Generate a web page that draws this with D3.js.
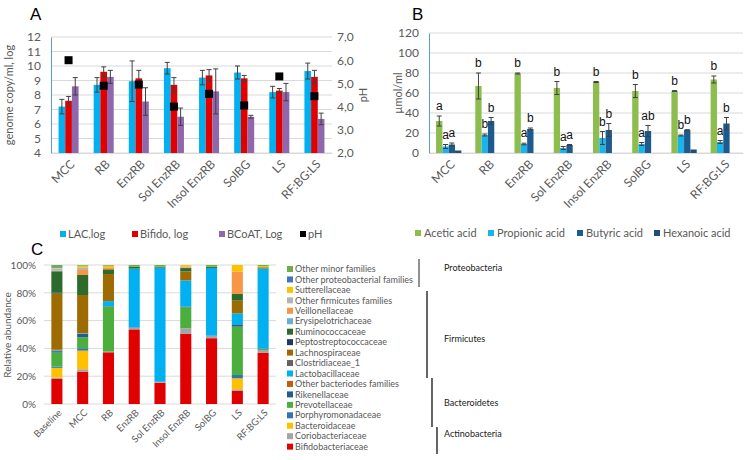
<!DOCTYPE html>
<html><head><meta charset="utf-8">
<script src="https://cdn.jsdelivr.net/npm/d3@7"></script>
<style>
body{margin:0;background:#fff}
svg{display:block}
text{font-family:Lato,'Open Sans',sans-serif}
</style>
</head><body>
<svg id="chart" width="752" height="460"></svg>
<script>
// ---------- Panel A data ----------
const groupsA = ["MCC","RB","EnzRB","Sol EnzRB","Insol EnzRB","SolBG","LS","RF:BG:LS"];
const lacLog    = [7.2, 8.7, 8.95, 9.85, 9.2, 9.55, 8.2, 9.65];
const lacErr    = [0.5, 0.5, 1.4, 0.4, 0.5, 0.45, 0.4, 0.55];
const bifidoLog = [7.6, 9.6, 9.15, 8.7, 9.35, 9.15, 8.3, 9.25];
const bifidoErr = [0.3, 0.34, 0.55, 0.5, 0.4, 0.2, 0.15, 0.45];
const bcoatLog  = [8.6, 9.25, 7.55, 6.5, 8.25, 6.5, 8.2, 6.35];
const bcoatErr  = [0.6, 0.45, 0.95, 0.6, 1.55, 0.1, 0.6, 0.4];
const pHvalues  = [6.0, 4.9, 4.95, 4.0, 4.55, 4.05, 5.3, 4.45];
const ticksA  = [4,5,6,7,8,9,10,11,12];
const ticksPH = [2,3,4,5,6,7];

// ---------- Panel B data ----------
const groupsB = groupsA;
const acetic      = [32, 67, 79.5, 65, 71, 62, 62, 73.5];
const aceticErr   = [5, 13, 0.5, 6.5, 0.5, 6.5, 0.4, 3.5];
const propionic   = [6.5, 18, 9, 5, 15, 9, 17.5, 11];
const propionicErr= [2, 1, 0.8, 1.5, 6.5, 1.5, 0.5, 1.5];
const butyric     = [8.5, 32, 24, 8, 23, 22, 23, 29.5];
const butyricErr  = [1.5, 3.5, 1, 0.5, 6.5, 5.5, 0.3, 6];
const hexanoic    = [2.5, 0, 0, 0, 0, 0, 3.5, 0];
const lettersAcetic    = ["a","b","b","b","b","b","b","b"];
const lettersPropionic = ["a","b","a","a","b","a","b","a"];
const lettersButyric   = ["a","b","b","a","b","ab","b","b"];
const ticksB = [0,20,40,60,80,100,120];

// ---------- Panel C data ----------
const groupsC = ["Baseline","MCC","RB","EnzRB","Sol EnzRB","Insol EnzRB","SolBG","LS","RF:BG:LS"];
const bifidobacteriaceae   = [18, 23.3, 37.2, 53.7, 15.3, 50.4, 47.2, 9.4, 36.9];
const coriobacteriaceae    = [1, 1.7, 0.5, 1.2, 0.7, 4.1, 1.7, 1.2, 1.9];
const bacteroidaceae       = [7, 13.4, 0, 0, 0, 0, 0, 7.9, 0];
const porphyromonadaceae   = [1, 1.7, 0, 0, 0, 0, 0, 2.4, 0];
const prevotellaceae       = [10, 7.9, 32.4, 0, 0, 15.1, 0, 34.8, 0.7];
const rikenellaceae        = [1, 2.4, 0.3, 0.3, 0, 0.5, 0.3, 1.7, 0.3];
const otherBacteroides     = [0.5, 0.3, 0, 0, 0, 0, 0, 0, 0];
const lactobacillaceae     = [0.5, 0.3, 3.6, 42.2, 82.1, 18.8, 48.4, 7.9, 57.3];
const clostridiaceae1      = [0, 0, 0, 0, 0, 0, 0, 0, 0];
const lachnospiraceae      = [40.5, 27.4, 19.5, 0, 0, 6.5, 0, 9.1, 0.3];
const peptostreptococcaceae= [0.5, 0, 0, 0, 0, 0, 0, 0, 0];
const ruminococcaceae      = [15.5, 14.4, 3.4, 1.4, 0.7, 2.4, 0.9, 4.8, 0.7];
const erysipelotrichaceae  = [0.5, 0, 0, 0, 0, 0, 0, 0, 0];
const veillonellaceae      = [0, 3.6, 1.4, 0, 0, 0.6, 0, 16.1, 0];
const otherFirmicutes      = [1.5, 1.9, 0, 0, 0, 0.6, 0, 0, 0];
const sutterellaceae       = [0.5, 1.2, 1.2, 0, 0, 1, 0, 4.8, 1];
const otherProteobacterial = [0.5, 0, 0, 0, 0, 0, 0, 0, 0];
const otherMinor           = [1.5, 0.5, 0.5, 1.2, 1.2, 0, 1.2, 0, 0.7];
const ticksC = [0,0.2,0.4,0.6,0.8,1];

// families bottom -> top
const families = [
  ["Bifidobacteriaceae", bifidobacteriaceae, "#e00000"],
  ["Coriobacteriaceae", coriobacteriaceae, "#a5a5a5"],
  ["Bacteroidaceae", bacteroidaceae, "#ffc000"],
  ["Porphyromonadaceae", porphyromonadaceae, "#2e75b6"],
  ["Prevotellaceae", prevotellaceae, "#4cae3c"],
  ["Rikenellaceae", rikenellaceae, "#1f5f8f"],
  ["Other bacteriodes families", otherBacteroides, "#c55a11"],
  ["Lactobacillaceae", lactobacillaceae, "#00b0f0"],
  ["Clostridiaceae_1", clostridiaceae1, "#636363"],
  ["Lachnospiraceae", lachnospiraceae, "#9e6b00"],
  ["Peptostreptococcaceae", peptostreptococcaceae, "#1f3864"],
  ["Ruminococcaceae", ruminococcaceae, "#2d6b2d"],
  ["Erysipelotrichaceae", erysipelotrichaceae, "#6aaed6"],
  ["Veillonellaceae", veillonellaceae, "#f79646"],
  ["Other firmicutes families", otherFirmicutes, "#b4b4b4"],
  ["Sutterellaceae", sutterellaceae, "#ffc000"],
  ["Other proteobacterial families", otherProteobacterial, "#4472c4"],
  ["Other minor families", otherMinor, "#70ad47"]
];
const phyla = [
  {name:"Proteobacteria", y1:259, y2:287, x:419, color:"#555"},
  {name:"Firmicutes", y1:291, y2:378, x:427, color:"#111"},
  {name:"Bacteroidetes", y1:378, y2:427, x:432, color:"#111"},
  {name:"Actinobacteria", y1:427, y2:454, x:437, color:"#111"}
];

const gridC = "#d9d9d9", axisBlue = "#5b9bd5", txt = "#595959", errC = "#404040";
const svg = d3.select("#chart");

function errorBar(g, cx, yTop, yBot) {
  g.append("line").attr("x1",cx).attr("x2",cx).attr("y1",yTop).attr("y2",yBot).attr("stroke",errC).attr("stroke-width",1);
  g.append("line").attr("x1",cx-2.5).attr("x2",cx+2.5).attr("y1",yTop).attr("y2",yTop).attr("stroke",errC).attr("stroke-width",1);
  g.append("line").attr("x1",cx-2.5).attr("x2",cx+2.5).attr("y1",yBot).attr("y2",yBot).attr("stroke",errC).attr("stroke-width",1);
}

// ================= PANEL A =================
{
  const g = svg.append("g");
  const x = d3.scaleBand().domain(groupsA).range([51,332]).paddingInner(0.43).paddingOuter(0.215);
  const series = [
    {key:"LAC,log", vals:lacLog, err:lacErr, color:"#00b0f0"},
    {key:"Bifido, log", vals:bifidoLog, err:bifidoErr, color:"#e00000"},
    {key:"BCoAT, Log", vals:bcoatLog, err:bcoatErr, color:"#8e67ad"}
  ];
  const xs = d3.scaleBand().domain(series.map(s=>s.key)).range([0,x.bandwidth()]);
  const y = d3.scaleLinear().domain([4,12]).range([153,37]);
  const yR = d3.scaleLinear().domain([2,7]).range([153,37]);

  g.append("g").selectAll("line").data(ticksA).join("line")
    .attr("x1",51).attr("x2",332).attr("y1",d=>y(d)).attr("y2",d=>y(d))
    .attr("stroke",gridC).attr("stroke-width",1);

  const ax = g.append("g").attr("transform","translate(51,0)")
    .call(d3.axisLeft(y).tickValues(ticksA).tickSize(0).tickPadding(10));
  ax.select(".domain").attr("stroke",axisBlue);
  ax.selectAll("text").attr("fill",txt).style("font-size","12px").style("font-family","Lato");

  const axR = g.append("g").attr("transform","translate(332,0)")
    .call(d3.axisRight(yR).tickValues(ticksPH).tickSize(0).tickPadding(5).tickFormat(d=>d3.format(".1f")(d).replace(".",",")));
  axR.select(".domain").remove();
  axR.selectAll("text").attr("fill",txt).style("font-size","12px").style("font-family","Lato");

  series.forEach(s=>{
    groupsA.forEach((c,i)=>{
      const bx = x(c)+xs(s.key);
      g.append("rect").attr("x",bx).attr("width",xs.bandwidth()).attr("y",y(s.vals[i])).attr("height",y(4)-y(s.vals[i])).attr("fill",s.color);
    });
  });
  series.forEach(s=>{
    groupsA.forEach((c,i)=>{
      const cx = x(c)+xs(s.key)+xs.bandwidth()/2;
      errorBar(g, cx, y(s.vals[i]+s.err[i]), y(s.vals[i]-s.err[i]));
    });
  });
  groupsA.forEach((c,i)=>{
    const cx = x(c)+x.bandwidth()/2;
    g.append("rect").attr("x",cx-4).attr("y",yR(pHvalues[i])-4).attr("width",8).attr("height",8).attr("fill","#000");
  });

  const xa = g.append("g").attr("transform","translate(0,153)").call(d3.axisBottom(x).tickSize(0).tickPadding(0));
  xa.select(".domain").attr("stroke",gridC);
  xa.selectAll("text").attr("fill",txt).style("font-size","12px").style("font-family","Lato")
    .attr("text-anchor","end").attr("transform","translate(4,9) rotate(-45)").attr("dy","0.35em");

  g.append("text").attr("x",30).attr("y",20).text("A").style("font-family","Liberation Sans").style("font-size","17px");
  g.append("text").attr("transform","translate(13,95) rotate(-90)").attr("text-anchor","middle")
    .attr("fill",txt).style("font-size","11px").text("genome copy/ml, log");
  g.append("text").attr("transform","translate(367,95) rotate(-90)").attr("text-anchor","middle")
    .attr("fill",txt).style("font-size","11px").text("pH");

  const legA = [
    {t:"LAC,log", c:"#00b0f0", x:60},
    {t:"Bifido, log", c:"#e00000", x:132},
    {t:"BCoAT, Log", c:"#8e67ad", x:219},
    {t:"pH", c:"#000", x:300}
  ];
  legA.forEach(l=>{
    g.append("rect").attr("x",l.x).attr("y",231).attr("width",6).attr("height",6).attr("fill",l.c);
    g.append("text").attr("x",l.x+8).attr("y",234).attr("dy","0.35em").attr("fill",txt).style("font-size","11px").text(l.t);
  });
}

// ================= PANEL B =================
{
  const g = svg.append("g");
  const x = d3.scaleBand().domain(groupsB).range([429,743]).paddingInner(0.355).paddingOuter(0.18);
  const series = [
    {key:"Acetic acid", vals:acetic, err:aceticErr, color:"#8cbd4e", let:lettersAcetic},
    {key:"Propionic acid", vals:propionic, err:propionicErr, color:"#1ab4ec", let:lettersPropionic},
    {key:"Butyric acid", vals:butyric, err:butyricErr, color:"#1d5a8e", let:lettersButyric},
    {key:"Hexanoic acid", vals:hexanoic, err:null, color:"#1f4e79", let:null}
  ];
  const xs = d3.scaleBand().domain(series.map(s=>s.key)).range([0,x.bandwidth()]);
  const y = d3.scaleLinear().domain([0,120]).range([153,33]);

  g.append("g").selectAll("line").data(ticksB).join("line")
    .attr("x1",429).attr("x2",743).attr("y1",d=>y(d)).attr("y2",d=>y(d))
    .attr("stroke",gridC).attr("stroke-width",1);
  const ax = g.append("g").attr("transform","translate(429,0)")
    .call(d3.axisLeft(y).tickValues(ticksB).tickSize(0).tickPadding(10));
  ax.select(".domain").attr("stroke",axisBlue);
  ax.selectAll("text").attr("fill",txt).style("font-size","12px").style("font-family","Lato");

  series.forEach(s=>{
    groupsB.forEach((c,i)=>{
      if (s.vals[i] <= 0) return;
      g.append("rect").attr("x",x(c)+xs(s.key)).attr("width",xs.bandwidth()).attr("y",y(s.vals[i])).attr("height",y(0)-y(s.vals[i])).attr("fill",s.color);
    });
  });
  series.forEach(s=>{
    if (!s.err) return;
    groupsB.forEach((c,i)=>{
      const cx = x(c)+xs(s.key)+xs.bandwidth()/2;
      const top = y(s.vals[i]+s.err[i]);
      errorBar(g, cx, top, y(Math.max(0,s.vals[i]-s.err[i])));
      if (s.let) g.append("text").attr("x",cx).attr("y",top-6).attr("text-anchor","middle")
        .style("font-family","Liberation Sans").style("font-size","12px").attr("fill","#111").text(s.let[i]);
    });
  });

  const xa = g.append("g").attr("transform","translate(0,153)").call(d3.axisBottom(x).tickSize(0).tickPadding(0));
  xa.select(".domain").attr("stroke",gridC);
  xa.selectAll("text").attr("fill",txt).style("font-size","12px").style("font-family","Lato")
    .attr("text-anchor","end").attr("transform","translate(4,9) rotate(-45)").attr("dy","0.35em");

  g.append("text").attr("x",412).attr("y",20).text("B").style("font-family","Liberation Sans").style("font-size","17px");
  g.append("text").attr("transform","translate(402,93) rotate(-90)").attr("text-anchor","middle")
    .attr("fill",txt).style("font-size","11px").text("µmol/ml");

  const legB = [
    {t:"Acetic acid", c:"#8cbd4e", x:415},
    {t:"Propionic acid", c:"#1ab4ec", x:488},
    {t:"Butyric acid", c:"#1d5a8e", x:577},
    {t:"Hexanoic acid", c:"#1f4e79", x:654}
  ];
  legB.forEach(l=>{
    g.append("rect").attr("x",l.x).attr("y",230).attr("width",6).attr("height",6).attr("fill",l.c);
    g.append("text").attr("x",l.x+9).attr("y",233).attr("dy","0.35em").attr("fill",txt).style("font-size","11px").text(l.t);
  });
}

// ================= PANEL C =================
{
  const g = svg.append("g");
  const x = d3.scaleBand().domain(groupsC).range([44,276]).paddingInner(0.57).paddingOuter(0.285);
  const y = d3.scaleLinear().domain([0,1]).range([404,265]);
  const rows = groupsC.map((c,i)=>{
    const r = {group:c};
    families.forEach(f=>{ r[f[0]] = f[1][i]; });
    return r;
  });
  const stacked = d3.stack().keys(families.map(f=>f[0])).offset(d3.stackOffsetExpand)(rows);

  g.append("g").selectAll("line").data(ticksC).join("line")
    .attr("x1",44).attr("x2",276).attr("y1",d=>y(d)).attr("y2",d=>y(d))
    .attr("stroke",gridC).attr("stroke-width",1);
  const ax = g.append("g").attr("transform","translate(44,0)")
    .call(d3.axisLeft(y).tickValues(ticksC).tickSize(0).tickPadding(8).tickFormat(d3.format(".0%")));
  ax.select(".domain").remove();
  ax.selectAll("text").attr("fill",txt).style("font-size","10px").style("font-family","Lato");

  stacked.forEach((layer,k)=>{
    g.append("g").attr("fill",families[k][2]).selectAll("rect").data(layer).join("rect")
      .attr("x",d=>x(d.data.group)).attr("width",x.bandwidth())
      .attr("y",d=>y(d[1])).attr("height",d=>Math.max(0,y(d[0])-y(d[1])));
  });

  const xa = g.append("g").attr("transform","translate(0,404)").call(d3.axisBottom(x).tickSize(0).tickPadding(0));
  xa.select(".domain").remove();
  xa.selectAll("text").attr("fill",txt).style("font-size","9.5px").style("font-family","Lato")
    .attr("text-anchor","end").attr("transform","translate(3,7) rotate(-45)").attr("dy","0.35em");

  g.append("text").attr("x",31).attr("y",255).text("C").style("font-family","Liberation Sans").style("font-size","17px");
  g.append("text").attr("transform","translate(11,335) rotate(-90)").attr("text-anchor","middle")
    .attr("fill",txt).style("font-size","10px").text("Relative abundance");

  const legendOrder = families.slice().reverse();
  legendOrder.forEach((f,i)=>{
    const yy = 269 + i*10.45;
    g.append("rect").attr("x",287).attr("y",yy-3).attr("width",6).attr("height",6).attr("fill",f[2]);
    g.append("text").attr("x",295).attr("y",yy).attr("dy","0.35em").attr("fill",txt).style("font-size","9px").text(f[0]);
  });
  phyla.forEach(p=>{
    g.append("line").attr("x1",p.x).attr("x2",p.x).attr("y1",p.y1).attr("y2",p.y2).attr("stroke",p.color).attr("stroke-width",1.3);
    g.append("text").attr("x",444).attr("y",(p.name==="Actinobacteria")?434:(p.name==="Proteobacteria"?268:(p.name==="Firmicutes"?339:403)))
      .attr("dy","0.35em").attr("fill","#222").style("font-size","9px").text(p.name);
  });
}
</script>
</body></html>
